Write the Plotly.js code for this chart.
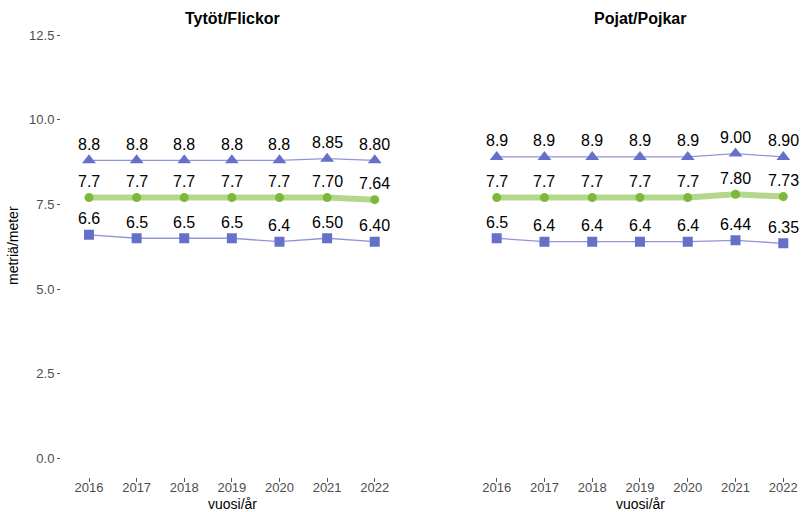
<!DOCTYPE html>
<html>
<head>
<meta charset="utf-8">
<script src="https://cdn.plot.ly/plotly-3.0.1.min.js"></script>
<style>html,body{margin:0;padding:0;background:#fff;}#chart{width:801px;height:512px;}</style>
</head>
<body>
<div id="chart"></div>
<script>
const years = [2016, 2017, 2018, 2019, 2020, 2021, 2022];
const panelTitles = ["Tytöt/Flickor", "Pojat/Pojkar"];
const yTickVals = [0, 2.5, 5, 7.5, 10, 12.5];
const yTickText = ["0.0", "2.5", "5.0", "7.5", "10.0", "12.5"];
// Girls
const girlsHigh = [8.8, 8.8, 8.8, 8.8, 8.8, 8.85, 8.80];
const girlsMid  = [7.7, 7.7, 7.7, 7.7, 7.7, 7.70, 7.64];
const girlsLow  = [6.6, 6.5, 6.5, 6.5, 6.4, 6.50, 6.40];
// Boys
const boysHigh = [8.9, 8.9, 8.9, 8.9, 8.9, 9.00, 8.90];
const boysMid  = [7.7, 7.7, 7.7, 7.7, 7.7, 7.80, 7.73];
const boysLow  = [6.5, 6.4, 6.4, 6.4, 6.4, 6.44, 6.35];

const blue = "#6670C8";
const blueLine = "#8E95D8";
const green = "#7DB83A";
const greenLine = "#B5D78C";
const fontFam = "Liberation Sans, Arial, sans-serif";

function fmt(v, i) { return years[i] >= 2021 ? v.toFixed(2) : v.toFixed(1); }

function series(y, xa, ya, kind) {
  const t = [];
  if (kind === "mid") {
    t.push({x: years, y: y, xaxis: xa, yaxis: ya, mode: "lines", type: "scatter",
      line: {color: greenLine, width: 6}, hoverinfo: "skip", showlegend: false});
    t.push({x: years, y: y, xaxis: xa, yaxis: ya, mode: "markers", type: "scatter",
      marker: {color: green, size: 9, symbol: "circle"}, showlegend: false});
  } else {
    t.push({x: years, y: y, xaxis: xa, yaxis: ya, mode: "lines+markers", type: "scatter",
      line: {color: blueLine, width: 1.3},
      marker: {color: blue, size: kind === "high" ? 12 : 10, symbol: kind === "high" ? "triangle-up" : "square"},
      showlegend: false});
  }
  return t;
}

const traces = [].concat(
  series(girlsHigh, "x", "y", "high"),
  series(girlsMid, "x", "y", "mid"),
  series(girlsLow, "x", "y", "low"),
  series(boysHigh, "x2", "y2", "high"),
  series(boysMid, "x2", "y2", "mid"),
  series(boysLow, "x2", "y2", "low")
);

const annotations = [];
function addLabels(arr, xr, yr) {
  arr.forEach((v, i) => {
    annotations.push({x: years[i], y: v, xref: xr, yref: yr, text: fmt(v, i),
      showarrow: false, yshift: 16, font: {family: fontFam, size: 16, color: "#000"}});
  });
}
addLabels(girlsHigh, "x", "y"); addLabels(girlsMid, "x", "y"); addLabels(girlsLow, "x", "y");
addLabels(boysHigh, "x2", "y2"); addLabels(boysMid, "x2", "y2"); addLabels(boysLow, "x2", "y2");

function paperText(px, py, text, size, extra) {
  annotations.push(Object.assign({x: px / 801, y: 1 - py / 512, xref: "paper", yref: "paper", text: text,
    xanchor: "center", yanchor: "middle", showarrow: false,
    font: {family: fontFam, size: size, color: "#000"}}, extra || {}));
}
// panel titles
paperText(232, 18, "<b>" + panelTitles[0] + "</b>", 16);
paperText(640, 18, "<b>" + panelTitles[1] + "</b>", 16);
// axis titles
paperText(232, 504, "vuosi/år", 14);
paperText(640, 504, "vuosi/år", 14);
paperText(13, 246, "metriä/meter", 14, {textangle: -90});

const xCommon = {tickvals: years, ticktext: years.map(String), ticks: "outside", ticklen: 4, tickcolor: "#555",
  ticklabelstandoff: -6,
  tickfont: {family: fontFam, size: 13, color: "#4D4D4D"}, showgrid: false, zeroline: false, showline: false, fixedrange: true};
const yCommon = {range: [-0.55, 13.1], tickvals: yTickVals, ticktext: yTickText, showgrid: false, zeroline: false, showline: false,
  domain: [0.0682, 0.9713], fixedrange: true};

const layout = {
  width: 801, height: 512,
  margin: {l: 0, r: 0, t: 0, b: 0},
  paper_bgcolor: "#fff", plot_bgcolor: "#fff",
  showlegend: false,
  xaxis: Object.assign({}, xCommon, {range: [2015.412, 2022.6], domain: [61 / 801, 403.3 / 801], anchor: "y"}),
  xaxis2: Object.assign({}, xCommon, {range: [2015.412, 2022.35], domain: [468.6 / 801, 800 / 801], anchor: "y2"}),
  yaxis: Object.assign({}, yCommon, {anchor: "x", ticks: "outside", ticklen: 3, tickcolor: "#555",
    tickfont: {family: fontFam, size: 13, color: "#4D4D4D"}}),
  yaxis2: Object.assign({}, yCommon, {anchor: "x2", showticklabels: false, ticks: ""}),
  annotations: annotations
};

Plotly.newPlot("chart", traces, layout, {displayModeBar: false, staticPlot: true});
</script>
</body>
</html>
